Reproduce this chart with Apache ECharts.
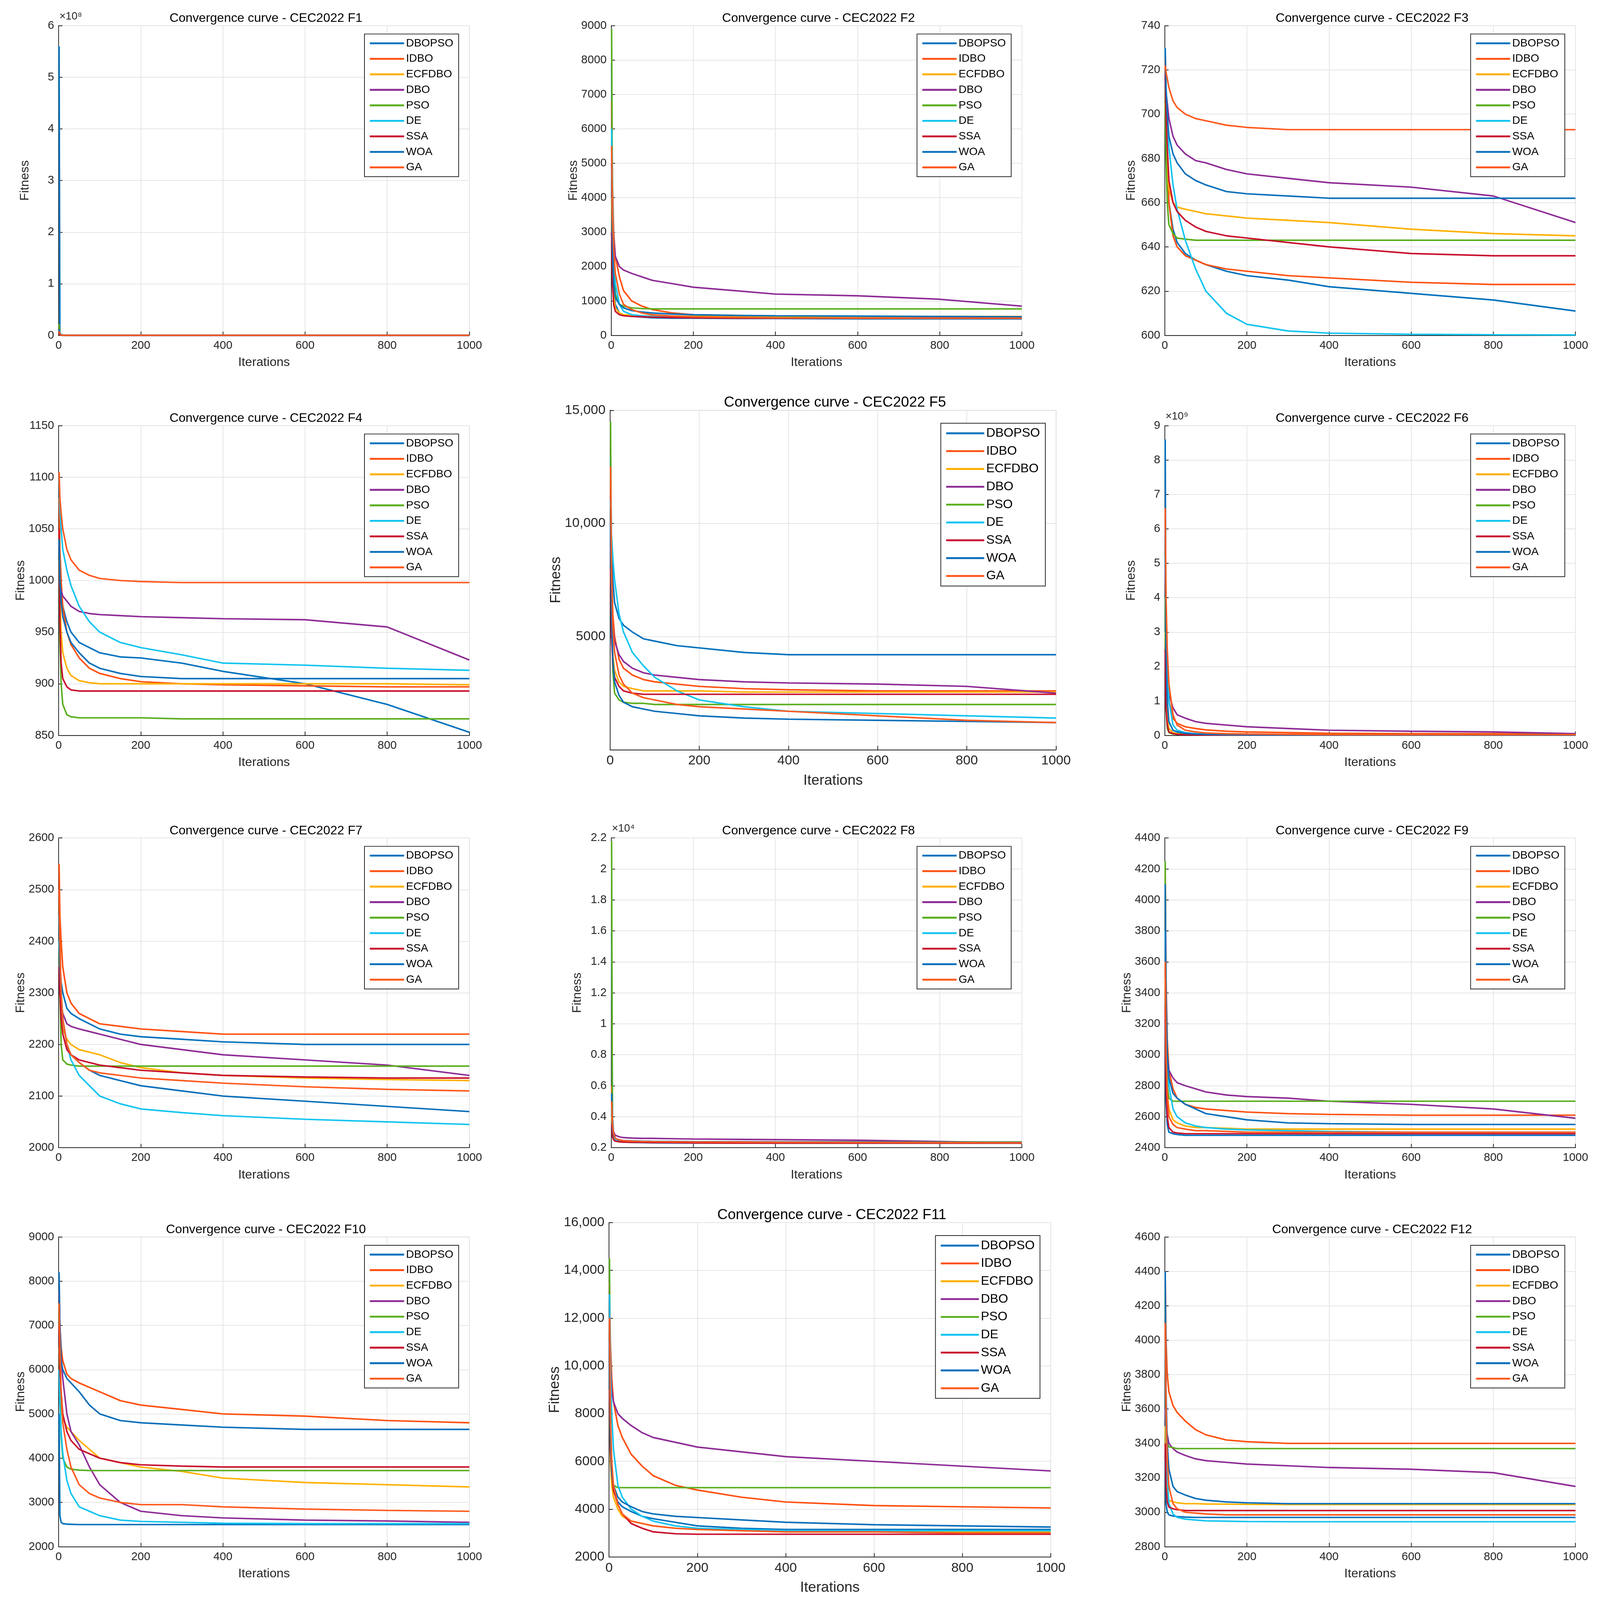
<!DOCTYPE html>
<html>
<head>
<meta charset="utf-8">
<script src="https://cdn.jsdelivr.net/npm/echarts@6/dist/echarts.min.js"></script>
<style>
  html, body { margin: 0; padding: 0; background: #fff; overflow: hidden; }
  #chart { width: 100vw; height: 100vh; }
</style>
</head>
<body>
<div id="chart"></div>
<script>
// iterations sampled for every curve
const iters = [1, 3, 6, 10, 20, 30, 50, 75, 100, 150, 200, 300, 400, 600, 800, 1000];
const algos = ['DBOPSO', 'IDBO', 'ECFDBO', 'DBO', 'PSO', 'DE', 'SSA', 'WOA', 'GA'];
const colors = ['#0072BD', '#FF5010', '#FFB000', '#8E2C96', '#5AAE1E', '#13C4F0', '#C8102E', '#0A6FBA', '#FF5A1F'];

// each panel: one row per algorithm, in the order of algos
const F1 = [
  [5.6e8, 2e6, 4e5, 1e5, 5e4, 3e4, 2e4, 1.5e4, 1.2e4, 1e4, 1e4, 1e4, 1e4, 1e4, 1e4, 1e4],
  [8e6, 2e6, 6e5, 3e5, 1e5, 6e4, 4e4, 3e4, 2e4, 1.5e4, 1.2e4, 1e4, 1e4, 1e4, 1e4, 1e4],
  [6e6, 1e6, 3e5, 1e5, 5e4, 3e4, 2e4, 1.5e4, 1.2e4, 1e4, 1e4, 1e4, 1e4, 1e4, 1e4, 1e4],
  [1e7, 4e6, 1e6, 5e5, 2e5, 1e5, 6e4, 4e4, 3e4, 2e4, 1.5e4, 1.2e4, 1e4, 1e4, 1e4, 1e4],
  [2.2e7, 3e6, 5e5, 2e5, 8e4, 5e4, 3e4, 2e4, 1.5e4, 1.2e4, 1e4, 1e4, 1e4, 1e4, 1e4, 1e4],
  [9e6, 5e6, 2e6, 8e5, 2e5, 1e5, 5e4, 3e4, 2e4, 1.5e4, 1.2e4, 1e4, 1e4, 1e4, 1e4, 1e4],
  [5e6, 1e6, 3e5, 1e5, 5e4, 3e4, 2e4, 1.5e4, 1.2e4, 1e4, 1e4, 1e4, 1e4, 1e4, 1e4, 1e4],
  [1.2e7, 3e6, 8e5, 3e5, 1e5, 6e4, 4e4, 3e4, 2e4, 1.5e4, 1.2e4, 1e4, 1e4, 1e4, 1e4, 1e4],
  [8e6, 3e6, 1e6, 4e5, 1.5e5, 8e4, 5e4, 3e4, 2e4, 1.5e4, 1.2e4, 1e4, 1e4, 1e4, 1e4, 1e4]
];
const F2 = [
  [7900, 3000, 1500, 900, 650, 600, 560, 530, 510, 500, 500, 490, 490, 480, 480, 480],
  [6800, 4500, 3000, 2300, 1700, 1300, 1000, 850, 750, 650, 600, 580, 560, 550, 540, 530],
  [4000, 2000, 1200, 800, 650, 600, 580, 570, 560, 560, 555, 555, 550, 550, 550, 550],
  [5000, 3500, 2800, 2300, 2000, 1900, 1800, 1700, 1600, 1500, 1400, 1300, 1200, 1150, 1050, 850],
  [8900, 4000, 2000, 1200, 900, 850, 800, 780, 770, 770, 770, 770, 770, 770, 770, 770],
  [6000, 4000, 2500, 1500, 900, 700, 600, 570, 550, 530, 520, 510, 510, 500, 500, 500],
  [3000, 1500, 900, 700, 600, 570, 550, 540, 530, 520, 510, 500, 500, 500, 500, 500],
  [5000, 2500, 1500, 1100, 900, 800, 720, 680, 650, 620, 600, 580, 570, 560, 550, 540],
  [5500, 3500, 2500, 1800, 1200, 900, 750, 650, 600, 560, 540, 520, 510, 500, 500, 500]
];
const F3 = [
  [730, 700, 680, 660, 648, 642, 637, 634, 632, 629, 627, 625, 622, 619, 616, 611],
  [725, 700, 680, 660, 645, 640, 636, 634, 632, 630, 629, 627, 626, 624, 623, 623],
  [705, 690, 675, 666, 660, 658, 657, 656, 655, 654, 653, 652, 651, 648, 646, 645],
  [715, 710, 705, 698, 690, 686, 682, 679, 678, 675, 673, 671, 669, 667, 663, 651],
  [712, 680, 660, 650, 646, 644, 643.5, 643, 643, 643, 643, 643, 643, 643, 643, 643],
  [715, 705, 695, 685, 668, 657, 643, 630, 620, 610, 605, 602, 601, 600.5, 600.3, 600.2],
  [718, 700, 685, 670, 660, 656, 652, 649, 647, 645, 644, 642, 640, 637, 636, 636],
  [729, 712, 700, 690, 682, 678, 673, 670, 668, 665, 664, 663, 662, 662, 662, 662],
  [722, 719, 716, 712, 706, 703, 700, 698, 697, 695, 694, 693, 693, 693, 693, 693]
];
const F4 = [
  [1040, 1010, 990, 975, 960, 950, 940, 935, 930, 926, 925, 920, 912, 900, 880, 853],
  [1080, 1030, 1000, 975, 950, 938, 925, 915, 910, 905, 902, 900, 899, 898, 897, 897],
  [1050, 990, 950, 930, 915, 908, 903, 901, 900, 900, 900, 900, 900, 900, 900, 899],
  [1000, 995, 990, 985, 980, 975, 970, 968, 967, 966, 965, 964, 963, 962, 955, 923],
  [1020, 940, 900, 880, 870, 868, 867, 867, 867, 867, 867, 866, 866, 866, 866, 866],
  [1100, 1070, 1050, 1030, 1010, 995, 975, 960, 950, 940, 935, 928, 920, 918, 915, 913],
  [1050, 960, 920, 905, 897, 894, 893, 893, 893, 893, 893, 893, 893, 893, 893, 893],
  [1040, 1000, 980, 965, 950, 940, 930, 920, 915, 910, 907, 905, 905, 905, 905, 905],
  [1105, 1080, 1065, 1050, 1030, 1020, 1010, 1005, 1002, 1000, 999, 998, 998, 998, 998, 998]
];
const F5 = [
  [13000, 9000, 7500, 6500, 5800, 5500, 5200, 4900, 4800, 4600, 4500, 4300, 4200, 4200, 4200, 4200],
  [12000, 8000, 6000, 5000, 4000, 3600, 3300, 3100, 3000, 2900, 2800, 2700, 2650, 2600, 2600, 2600],
  [8000, 5500, 4200, 3500, 3000, 2800, 2700, 2600, 2600, 2600, 2600, 2550, 2550, 2550, 2550, 2550],
  [9000, 6500, 5500, 4800, 4200, 3900, 3600, 3400, 3300, 3200, 3100, 3000, 2950, 2900, 2800, 2500],
  [14500, 6000, 3500, 2500, 2200, 2100, 2050, 2050, 2000, 2000, 2000, 2000, 2000, 2000, 2000, 2000],
  [11000, 9500, 8500, 7500, 6000, 5200, 4300, 3700, 3200, 2600, 2200, 1900, 1700, 1600, 1500, 1400],
  [8000, 5000, 3800, 3200, 2800, 2600, 2500, 2450, 2450, 2450, 2450, 2450, 2450, 2450, 2450, 2450],
  [10000, 6000, 4000, 3000, 2400, 2100, 1900, 1800, 1700, 1600, 1500, 1400, 1350, 1300, 1250, 1200],
  [12500, 8000, 5500, 4300, 3300, 2900, 2500, 2300, 2200, 2000, 1900, 1800, 1700, 1500, 1300, 1200]
];
const F6 = [
  [8.6e9, 2e9, 6e8, 2e8, 8e7, 5e7, 3e7, 2e7, 1.5e7, 1e7, 1e7, 1e7, 1e7, 1e7, 1e7, 1e7],
  [4.9e9, 3e9, 1.8e9, 1e9, 5e8, 3.5e8, 2.5e8, 2e8, 1.6e8, 1.2e8, 1e8, 8e7, 6e7, 5e7, 5e7, 5e7],
  [3e9, 1.2e9, 5e8, 2e8, 8e7, 5e7, 3e7, 2e7, 1.5e7, 1e7, 1e7, 1e7, 1e7, 1e7, 1e7, 1e7],
  [5e9, 3e9, 2e9, 1.2e9, 8e8, 6e8, 5e8, 4e8, 3.5e8, 3e8, 2.5e8, 2e8, 1.5e8, 1.2e8, 1e8, 5e7],
  [4e9, 8e8, 2e8, 8e7, 4e7, 3e7, 2e7, 2e7, 2e7, 2e7, 2e7, 2e7, 2e7, 2e7, 2e7, 2e7],
  [5.2e9, 3.5e9, 2e9, 1e9, 3e8, 1.5e8, 8e7, 5e7, 3e7, 2e7, 1.5e7, 1e7, 1e7, 1e7, 1e7, 1e7],
  [2.5e9, 8e8, 3e8, 1e8, 5e7, 3e7, 2e7, 1.5e7, 1e7, 1e7, 1e7, 1e7, 1e7, 1e7, 1e7, 1e7],
  [6e9, 2.5e9, 1e9, 4e8, 1.5e8, 1e8, 6e7, 4e7, 3e7, 2e7, 1.5e7, 1e7, 1e7, 1e7, 1e7, 1e7],
  [6.6e9, 4e9, 2.5e9, 1.5e9, 6e8, 3e8, 1.5e8, 1e8, 7e7, 5e7, 4e7, 3e7, 2e7, 2e7, 2e7, 2e7]
];
const F7 = [
  [2400, 2350, 2320, 2300, 2270, 2260, 2250, 2240, 2230, 2220, 2215, 2210, 2205, 2200, 2200, 2200],
  [2550, 2450, 2400, 2350, 2300, 2280, 2260, 2250, 2240, 2235, 2230, 2225, 2220, 2220, 2220, 2220],
  [2400, 2300, 2250, 2230, 2210, 2200, 2190, 2185, 2180, 2165, 2155, 2145, 2140, 2135, 2132, 2130],
  [2350, 2300, 2280, 2260, 2240, 2235, 2230, 2225, 2220, 2210, 2200, 2190, 2180, 2170, 2160, 2140],
  [2450, 2300, 2200, 2170, 2162, 2160, 2158, 2158, 2158, 2158, 2158, 2158, 2158, 2158, 2158, 2158],
  [2400, 2350, 2300, 2250, 2200, 2170, 2140, 2120, 2100, 2085, 2075, 2068, 2062, 2055, 2050, 2045],
  [2350, 2300, 2250, 2220, 2190, 2180, 2170, 2165, 2160, 2155, 2150, 2145, 2140, 2137, 2135, 2135],
  [2450, 2350, 2300, 2250, 2200, 2180, 2165, 2150, 2140, 2130, 2120, 2110, 2100, 2090, 2080, 2070],
  [2500, 2400, 2300, 2250, 2200, 2180, 2165, 2150, 2145, 2140, 2135, 2130, 2125, 2118, 2113, 2110]
];
const F8 = [
  [16000, 4000, 2800, 2500, 2400, 2380, 2360, 2350, 2340, 2330, 2320, 2310, 2300, 2300, 2300, 2300],
  [6000, 3500, 2900, 2600, 2500, 2450, 2420, 2400, 2390, 2380, 2370, 2360, 2350, 2340, 2330, 2320],
  [4000, 2900, 2600, 2450, 2380, 2360, 2340, 2330, 2320, 2310, 2300, 2300, 2300, 2300, 2300, 2300],
  [5000, 3500, 3000, 2800, 2700, 2650, 2620, 2600, 2600, 2580, 2560, 2540, 2520, 2480, 2400, 2300],
  [21800, 3000, 2600, 2450, 2400, 2380, 2370, 2370, 2370, 2370, 2370, 2370, 2370, 2370, 2370, 2370],
  [4500, 3200, 2700, 2500, 2400, 2360, 2340, 2320, 2310, 2300, 2300, 2300, 2300, 2300, 2300, 2300],
  [3500, 2700, 2500, 2420, 2380, 2360, 2350, 2340, 2330, 2320, 2310, 2300, 2300, 2300, 2300, 2300],
  [5500, 3200, 2800, 2600, 2500, 2460, 2440, 2420, 2410, 2400, 2390, 2380, 2370, 2360, 2350, 2340],
  [5000, 3500, 2900, 2600, 2500, 2450, 2420, 2400, 2390, 2380, 2370, 2360, 2350, 2340, 2330, 2320]
];
const F9 = [
  [3200, 2700, 2550, 2500, 2490, 2485, 2480, 2480, 2480, 2480, 2480, 2480, 2480, 2480, 2480, 2480],
  [4200, 3500, 3100, 2900, 2780, 2720, 2680, 2660, 2650, 2640, 2630, 2620, 2615, 2610, 2610, 2610],
  [3500, 3000, 2750, 2650, 2580, 2560, 2540, 2530, 2530, 2525, 2520, 2520, 2520, 2520, 2520, 2520],
  [3800, 3300, 3000, 2900, 2850, 2820, 2800, 2780, 2760, 2740, 2730, 2720, 2700, 2680, 2650, 2590],
  [4250, 3200, 2800, 2720, 2700, 2700, 2700, 2700, 2700, 2700, 2700, 2700, 2700, 2700, 2700, 2700],
  [3800, 3300, 3000, 2800, 2650, 2600, 2560, 2540, 2530, 2520, 2515, 2510, 2505, 2500, 2500, 2500],
  [3300, 2800, 2600, 2530, 2500, 2495, 2490, 2490, 2490, 2490, 2490, 2490, 2490, 2490, 2490, 2490],
  [4100, 3400, 3000, 2850, 2750, 2720, 2680, 2650, 2620, 2600, 2580, 2560, 2555, 2550, 2550, 2550],
  [3600, 3000, 2750, 2600, 2550, 2530, 2520, 2510, 2510, 2505, 2500, 2500, 2500, 2500, 2500, 2500]
];
const F10 = [
  [5000, 2700, 2550, 2520, 2510, 2505, 2500, 2500, 2500, 2500, 2500, 2500, 2500, 2500, 2500, 2500],
  [7800, 7000, 6500, 6200, 5900, 5800, 5700, 5600, 5500, 5300, 5200, 5100, 5000, 4950, 4850, 4800],
  [6500, 5800, 5200, 4900, 4700, 4600, 4400, 4200, 4000, 3900, 3800, 3700, 3550, 3450, 3400, 3350],
  [7800, 7000, 6300, 5800, 5000, 4600, 4300, 3800, 3400, 3000, 2800, 2700, 2650, 2600, 2580, 2550],
  [7500, 5500, 4500, 4000, 3800, 3750, 3730, 3720, 3720, 3720, 3720, 3720, 3720, 3720, 3720, 3720],
  [6000, 5200, 4600, 4100, 3500, 3200, 2900, 2800, 2700, 2600, 2570, 2550, 2530, 2520, 2520, 2520],
  [7000, 6000, 5500, 5000, 4600, 4400, 4200, 4100, 4000, 3900, 3850, 3820, 3800, 3800, 3800, 3800],
  [8200, 7000, 6200, 6000, 5800, 5700, 5500, 5200, 5000, 4850, 4800, 4750, 4700, 4650, 4650, 4650],
  [7500, 6500, 5500, 4800, 4200, 3800, 3400, 3200, 3100, 3000, 2950, 2950, 2900, 2850, 2820, 2800]
];
const F11 = [
  [10000, 6500, 5300, 4800, 4300, 4100, 3900, 3700, 3600, 3450, 3300, 3200, 3150, 3150, 3150, 3150],
  [13500, 11000, 9500, 8500, 7500, 7000, 6300, 5800, 5400, 5000, 4800, 4500, 4300, 4150, 4100, 4050],
  [9000, 6000, 5000, 4500, 4000, 3700, 3500, 3400, 3300, 3200, 3150, 3100, 3050, 3050, 3050, 3050],
  [12000, 10000, 9000, 8500, 8000, 7800, 7500, 7200, 7000, 6800, 6600, 6400, 6200, 6000, 5800, 5600],
  [14500, 7000, 5500, 5000, 4900, 4900, 4900, 4900, 4900, 4900, 4900, 4900, 4900, 4900, 4900, 4900],
  [13000, 10000, 8000, 6500, 5000, 4500, 4000, 3700, 3500, 3300, 3200, 3150, 3100, 3100, 3100, 3100],
  [9000, 6500, 5500, 4800, 4200, 3800, 3400, 3200, 3050, 2970, 2950, 2950, 2950, 2950, 2950, 2950],
  [11000, 7000, 5500, 5000, 4500, 4300, 4100, 3900, 3800, 3700, 3650, 3550, 3450, 3350, 3300, 3250],
  [12000, 8000, 6000, 5000, 4200, 3800, 3500, 3400, 3300, 3200, 3150, 3100, 3050, 3050, 3000, 3000]
];
const F12 = [
  [3300, 3050, 3000, 2985, 2978, 2975, 2972, 2970, 2970, 2970, 2970, 2970, 2970, 2970, 2970, 2970],
  [4400, 4000, 3800, 3700, 3620, 3580, 3530, 3480, 3450, 3420, 3410, 3400, 3400, 3400, 3400, 3400],
  [3500, 3200, 3100, 3070, 3060, 3055, 3050, 3050, 3048, 3047, 3046, 3045, 3045, 3045, 3045, 3045],
  [3600, 3500, 3450, 3400, 3370, 3350, 3330, 3310, 3300, 3290, 3280, 3270, 3260, 3250, 3230, 3150],
  [4300, 3600, 3400, 3380, 3375, 3370, 3370, 3370, 3370, 3370, 3370, 3370, 3370, 3370, 3370, 3370],
  [4000, 3500, 3200, 3050, 2990, 2970, 2960, 2955, 2950, 2948, 2946, 2945, 2945, 2945, 2945, 2945],
  [3400, 3150, 3060, 3030, 3020, 3015, 3010, 3010, 3010, 3010, 3010, 3010, 3010, 3010, 3010, 3010],
  [4400, 3700, 3400, 3250, 3150, 3120, 3100, 3080, 3070, 3060, 3055, 3050, 3050, 3050, 3050, 3050],
  [4100, 3600, 3300, 3150, 3050, 3020, 3000, 2995, 2990, 2985, 2985, 2985, 2985, 2985, 2985, 2985]
];
const panelData = [F1, F2, F3, F4, F5, F6, F7, F8, F9, F10, F11, F12];
const titles = ['F1', 'F2', 'F3', 'F4', 'F5', 'F6', 'F7', 'F8', 'F9', 'F10', 'F11', 'F12']
  .map(f => 'Convergence curve - CEC2022 ' + f);
// y axis ranges, tick step, label divisor and exponent note
const yMin = [0, 0, 600, 850, 0, 0, 2000, 2000, 2400, 2000, 2000, 2800];
const yMax = [6e8, 9000, 740, 1150, 15000, 9e9, 2600, 22000, 4400, 9000, 16000, 4600];
const yStep = [1e8, 1000, 20, 50, 5000, 1e9, 100, 2000, 200, 1000, 2000, 200];
const yScale = [1e8, 1, 1, 1, 1, 1e9, 1, 1e4, 1, 1, 1, 1];
const yExp = ['×10⁸', '', '', '', '', '×10⁹', '', '×10⁴', '', '', '', ''];

const el = document.getElementById('chart');
const PW = el.clientWidth || window.innerWidth, PH = el.clientHeight || window.innerHeight;
const SX = PW / 1500, SY = PH / 1560, K = PW / 4198;
const colL = [55, 573, 1092], rowT = [25, 415, 817, 1206];

function rectOf(p) {
  if (p === 4) return {l: 572, t: 400, w: 418, h: 331, big: true};
  if (p === 10) return {l: 571, t: 1192, w: 414, h: 326, big: true};
  return {l: colL[p % 3], t: rowT[Math.floor(p / 3)], w: 385, h: 302, big: false};
}

const chart = echarts.init(el);
const FONT = 'Liberation Sans, Arial, sans-serif';
const grid = [], xAxis = [], yAxis = [], series = [], title = [], legend = [], graphic = [];

panelData.forEach(function (rows, p) {
  const r = rectOf(p);
  const L = r.l * SX, T = r.t * SY, W = r.w * SX, H = r.h * SY;
  const fs = (r.big ? 35 : 30) * K;
  grid.push({left: L, top: T, width: W, height: H, show: true, borderColor: '#e2e2e2', borderWidth: 2 * K, backgroundColor: '#fff'});
  title.push({
    text: titles[p], left: L + W / 2, top: T - (r.big ? 44 : 40) * K, textAlign: 'center',
    textStyle: {fontFamily: FONT, fontWeight: 'normal', fontSize: (r.big ? 38 : 33) * K, color: '#000'}
  });
  const axisCommon = {
    axisLine: {show: true, onZero: false, lineStyle: {color: '#262626', width: 2 * K}},
    axisTick: {show: true, inside: true, length: 10 * K, lineStyle: {color: '#262626', width: 2 * K}},
    splitLine: {show: true, lineStyle: {color: '#e6e6e6', width: 2 * K}},
    nameTextStyle: {fontFamily: FONT, fontSize: fs + 3 * K, color: '#262626'}
  };
  xAxis.push(Object.assign({
    type: 'value', gridIndex: p, min: 0, max: 1000, interval: 200,
    name: 'Iterations', nameLocation: 'middle', nameGap: (r.big ? 62 : 55) * K,
    axisLabel: {fontFamily: FONT, fontSize: fs, color: '#262626', margin: 12 * K, formatter: v => String(v)}
  }, axisCommon));
  const sc = yScale[p];
  yAxis.push(Object.assign({
    type: 'value', gridIndex: p, min: yMin[p], max: yMax[p], interval: yStep[p],
    name: 'Fitness', nameLocation: 'middle', nameGap: (r.big ? 100 : 72) * K,
    axisLabel: {
      fontFamily: FONT, fontSize: fs, color: '#262626', margin: 12 * K,
      formatter: function (v) {
        if (p === 4 && v === 0) return '';
        const s = +(v / sc).toFixed(2);
        return s >= 10000 ? s.toLocaleString('en-US') : String(s);
      }
    }
  }, axisCommon));
  if (yExp[p]) {
    graphic.push({type: 'text', left: L + 2 * K, top: T - 38 * K, style: {text: yExp[p], fontFamily: FONT, fontSize: 28 * K, fill: '#262626'}});
  }
  legend.push({
    data: algos, orient: 'vertical', right: PW - (L + W) + 28 * K, top: T + (r.big ? 34 : 22) * K,
    backgroundColor: '#fff', borderColor: '#262626', borderWidth: 2 * K, padding: [10 * K, 14 * K, 10 * K, 14 * K],
    icon: 'rect', itemWidth: (r.big ? 100 : 90) * K, itemHeight: 5 * K, itemGap: (r.big ? 14 : 12) * K,
    textStyle: {fontFamily: FONT, fontSize: (r.big ? 33 : 29) * K, color: '#000'}, selectedMode: false
  });
  rows.forEach(function (vals, k) {
    series.push({
      type: 'line', name: algos[k], xAxisIndex: p, yAxisIndex: p,
      data: iters.map((x, i) => [x, vals[i]]),
      showSymbol: false, color: colors[k], lineStyle: {width: 4 * K, color: colors[k]},
      clip: true, animation: false
    });
  });
});

chart.setOption({
  backgroundColor: '#fff', animation: false,
  title: title, grid: grid, xAxis: xAxis, yAxis: yAxis, legend: legend, series: series, graphic: graphic
});
</script>
</body>
</html>
